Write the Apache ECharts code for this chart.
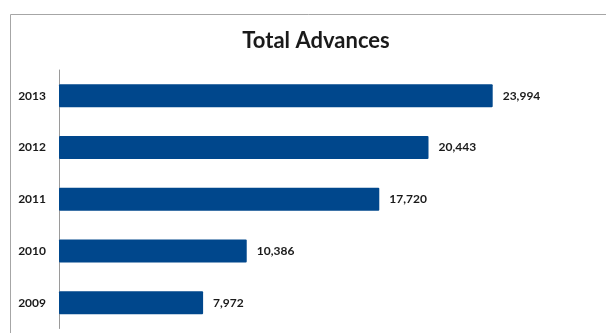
<!DOCTYPE html>
<html>
<head>
<meta charset="utf-8">
<script src="https://cdn.jsdelivr.net/npm/echarts@6/dist/echarts.min.js"></script>
<style>
  html, body { margin: 0; padding: 0; background: #fff; }
  #chart { width: 606px; height: 333px; }
</style>
</head>
<body>
<div id="chart"></div>
<script>
// Yearly totals, bottom to top
const years = ['2009', '2010', '2011', '2012', '2013'];
const advances = [7972, 10386, 17720, 20443, 23994];
const chartTitle = 'Total Advances';

const chart = echarts.init(document.getElementById('chart'), null, { renderer: 'canvas' });

chart.setOption({
  animation: false,
  backgroundColor: '#ffffff',
  title: {
    text: chartTitle,
    left: 311,
    top: 25,
    textAlign: 'center',
    textStyle: { fontFamily: 'Lato', fontWeight: 'bold', fontSize: 22, color: '#1a1a1a' }
  },
  graphic: [{
    type: 'rect',
    shape: { x: 10.5, y: 14.5, width: 800, height: 500 },
    style: { fill: 'none', stroke: '#a6a6a6', lineWidth: 1 },
    silent: true
  }],
  grid: { left: 59, top: 70, width: 542.25, height: 258.5, containLabel: false },
  xAxis: {
    type: 'value',
    min: 0,
    max: 30000,
    show: false
  },
  yAxis: {
    type: 'category',
    data: years,
    axisLine: { show: true, lineStyle: { color: '#9a9a9a', width: 1 } },
    axisTick: { show: false },
    axisLabel: {
      margin: 13,
      fontFamily: 'Lato',
      fontWeight: 'bold',
      fontSize: 12,
      color: '#1a1a1a'
    },
    splitLine: { show: false }
  },
  series: [{
    type: 'bar',
    data: advances,
    barWidth: 23,
    itemStyle: { color: '#00478c', borderRadius: 1 },
    label: {
      show: true,
      position: 'right',
      distance: 10,
      fontFamily: 'Lato',
      fontWeight: 'bold',
      fontSize: 12,
      color: '#1a1a1a',
      formatter: p => p.value.toLocaleString('en-US')
    }
  }]
});
</script>
</body>
</html>
